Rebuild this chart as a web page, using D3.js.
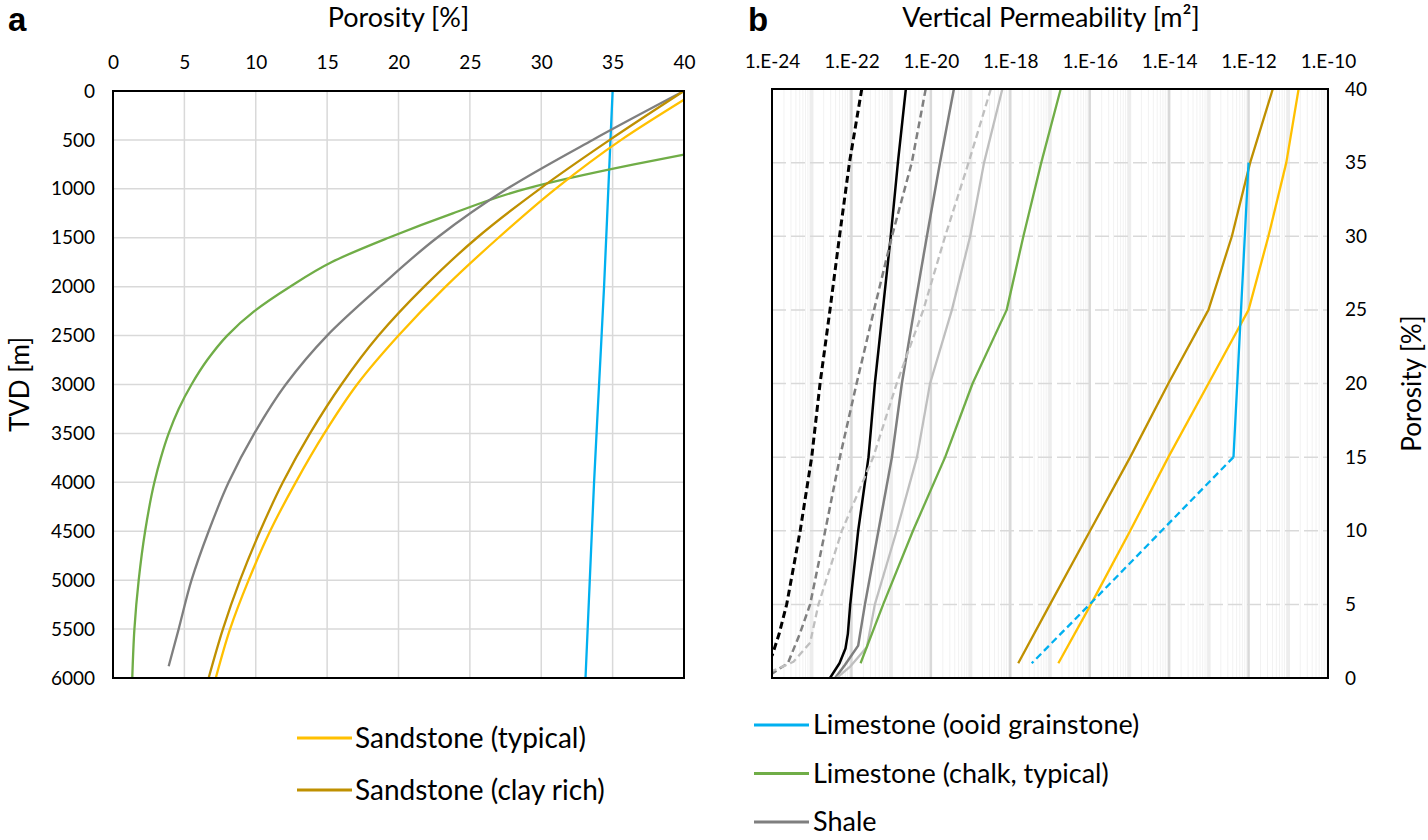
<!DOCTYPE html>
<html><head><meta charset="utf-8">
<script src="https://cdn.jsdelivr.net/npm/d3@7"></script>
<style>
body{margin:0;background:#fff}
svg{display:block}
text{font-family:Lato,"Open Sans","DejaVu Sans",sans-serif;fill:#000}
</style>
</head><body>
<svg id="chart" width="1428" height="840"></svg>
<script>
// ---------------- DATA ----------------
// Panel a: porosity [%] vs TVD [m]
const porosityTicksA = [0,5,10,15,20,25,30,35,40];
const depthTicks = [0,500,1000,1500,2000,2500,3000,3500,4000,4500,5000,5500,6000];

const sandTypicalDepth = [90,500,1000,1500,2000,2500,3000,3500,4000,4500,5000,5500,6000];
const sandTypicalPor   = [40,35.6,31.0,27.0,23.3,20.0,17.1,14.8,12.8,11.0,9.5,8.2,7.2];

const sandClayDepth = [0,500,1000,1500,2000,2500,3000,3500,4000,4500,5000,5500,6000];
const sandClayPor   = [40,34.8,29.9,25.5,21.8,18.6,16.0,13.8,11.9,10.3,8.9,7.7,6.7];

const shaleDepth = [0,500,1000,1500,2000,2500,3000,3500,4000,4500,5000,5500,5880];
const shalePor   = [40,33.6,27.6,22.7,18.7,15.0,12.1,9.9,8.1,6.7,5.5,4.6,3.9];

const chalkDepth = [650,750,1000,1250,1500,1750,2000,2250,2500,2750,3000,3250,3500,3750,4000,4500,5000,5500,6000];
const chalkPor   = [40,36.5,28.9,23.8,19.3,15.3,12.4,9.9,8.0,6.6,5.5,4.6,3.9,3.35,2.9,2.25,1.8,1.5,1.35];

const ooidDepth = [0,1000,2000,3000,4000,5000,6000];
const ooidPor   = [35.0,34.7,34.4,34.05,33.7,33.4,33.1];

// Panel b: vertical permeability (log10 of m²) vs porosity [%]
const permTickExp   = [-24,-22,-20,-18,-16,-14,-12,-10];
const permTickLabels = ["1.E-24","1.E-22","1.E-20","1.E-18","1.E-16","1.E-14","1.E-12","1.E-10"];
const porosityTicksB = [0,5,10,15,20,25,30,35,40];

const blackDashPor = [40,35,30,25,20,15,10,5,3,1.5];
const blackDashLogK = [-21.74,-22.05,-22.30,-22.54,-22.79,-23.00,-23.29,-23.63,-23.82,-24.0];

const blackSolidPor = [40,35,30,25,20,15,10,5,3,2,1,0];
const blackSolidLogK = [-20.63,-20.83,-21.01,-21.21,-21.41,-21.57,-21.83,-22.03,-22.09,-22.15,-22.30,-22.54];

const darkGrayDashPor = [40,35,30,25,20,15,10,5,3,1,0.3];
const darkGrayDashLogK = [-20.13,-20.48,-20.98,-21.43,-21.87,-22.29,-22.66,-23.04,-23.30,-23.60,-24.0];

const darkGraySolidPor = [40,35,30,25,20,15,10,5,2.2,0.9,0];
const darkGraySolidLogK = [-19.42,-19.77,-20.10,-20.42,-20.73,-20.98,-21.32,-21.66,-21.83,-22.16,-22.41];

const lightGrayDashPor = [40,35,30,25,20,15,10,5,2.4,1.1,0.5];
const lightGrayDashLogK = [-18.49,-19.05,-19.64,-20.19,-20.86,-21.45,-22.24,-22.83,-23.04,-23.46,-23.97];

const lightGraySolidPor = [40,35,30,25,20,15,10,5,2.1,0.75,0];
const lightGraySolidLogK = [-18.20,-18.66,-19.01,-19.47,-20.02,-20.35,-20.86,-21.41,-21.61,-22.04,-22.37];

const chalkPermPor = [40,35,30,25,20,15,10,5,1];
const chalkPermLogK = [-16.73,-17.22,-17.67,-18.09,-18.95,-19.64,-20.45,-21.20,-21.77];

const clayPermPor = [40,35,30,25,20,15,10,5,1];
const clayPermLogK = [-11.39,-11.96,-12.42,-13.01,-14.02,-14.98,-15.99,-17.00,-17.80];

const typPermPor = [40,35,30,25,20,15,10,5,1];
const typPermLogK = [-10.74,-11.05,-11.50,-12.00,-13.01,-14.02,-14.98,-15.97,-16.79];

const ooidSolidPor = [35,25,15];
const ooidSolidLogK = [-12.00,-12.19,-12.38];
const ooidDashPor = [15,5,1];
const ooidDashLogK = [-12.38,-16.00,-17.46];

const legendLeft = ["Sandstone (typical)","Sandstone (clay rich)"];
const legendRight = ["Limestone (ooid grainstone)","Limestone (chalk, typical)","Shale"];

// ---------------- STYLES ----------------
const C = {yellow:"#FFC000", brown:"#BF9000", gray:"#7F7F7F", green:"#70AD47", blue:"#00B0F0",
           black:"#000000", lgray:"#BFBFBF", grid:"#d9d9d9"};

const svg = d3.select("#chart");
const zip = (a,b)=>a.map((v,i)=>[v,b[i]]);

// ---------------- PANEL A ----------------
const A = {l:113, r:684, t:91, b:678};
const xA = d3.scaleLinear().domain([0,40]).range([A.l,A.r]);
const yA = d3.scaleLinear().domain([0,6000]).range([A.t,A.b]);

const gA = svg.append("g");
gA.append("g").selectAll("line").data(porosityTicksA.slice(1,-1)).join("line")
  .attr("x1",d=>xA(d)).attr("x2",d=>xA(d)).attr("y1",A.t).attr("y2",A.b)
  .attr("stroke",C.grid).attr("stroke-width",1.5);
gA.append("g").selectAll("line").data(depthTicks.slice(1,-1)).join("line")
  .attr("y1",d=>yA(d)).attr("y2",d=>yA(d)).attr("x1",A.l).attr("x2",A.r)
  .attr("stroke",C.grid).attr("stroke-width",1.5);

const axA = gA.append("g").attr("transform",`translate(0,${A.t})`)
  .call(d3.axisTop(xA).tickValues(porosityTicksA).tickSize(0).tickPadding(22).tickFormat(d3.format("d")));
const ayA = gA.append("g").attr("transform",`translate(${A.l},0)`)
  .call(d3.axisLeft(yA).tickValues(depthTicks).tickSize(0).tickPadding(18).tickFormat(d3.format("d")));
[axA,ayA].forEach(a=>{a.select(".domain").remove(); a.selectAll("text").style("font-size","19px").style("font-family","Lato");});

const lineA = d3.line().x(d=>xA(d[1])).y(d=>yA(d[0])).curve(d3.curveMonotoneY);
const seriesA = [
  {d:zip(ooidDepth,ooidPor), c:C.blue},
  {d:zip(chalkDepth,chalkPor), c:C.green},
  {d:zip(shaleDepth,shalePor), c:C.gray},
  {d:zip(sandClayDepth,sandClayPor), c:C.brown},
  {d:zip(sandTypicalDepth,sandTypicalPor), c:C.yellow}
];
seriesA.forEach(s=>gA.append("path").attr("d",lineA(s.d))
  .attr("fill","none").attr("stroke",s.c).attr("stroke-width",2.3).attr("stroke-linejoin","round"));

gA.append("rect").attr("x",A.l).attr("y",A.t).attr("width",A.r-A.l).attr("height",A.b-A.t)
  .attr("fill","none").attr("stroke","#000").attr("stroke-width",2);

svg.append("text").attr("x",8).attr("y",31).text("a").style("font-family","Liberation Sans, Arial").style("font-weight","bold").style("font-size","33px");
svg.append("text").attr("x",(A.l+A.r)/2).attr("y",27).attr("text-anchor","middle").style("font-size","27px").text("Porosity [%]");
svg.append("text").attr("transform",`translate(29,${(A.t+A.b)/2}) rotate(-90)`).attr("text-anchor","middle").style("font-size","26px").text("TVD [m]");

// ---------------- PANEL B ----------------
const B = {l:772, r:1328, t:89, b:678};
const xB = d3.scaleLog().domain([1e-24,1e-10]).range([B.l,B.r]);
const yB = d3.scaleLinear().domain([0,40]).range([B.b,B.t]);
const gB = svg.append("g");

const minors = [];
for (let e=-24; e<-10; e++) for (let k=2;k<=9;k++) minors.push(k*Math.pow(10,e));
gB.append("g").selectAll("line").data(minors).join("line")
  .attr("x1",d=>xB(d)).attr("x2",d=>xB(d)).attr("y1",B.t).attr("y2",B.b)
  .attr("stroke","#f2f2f2").attr("stroke-width",1);
const decades = d3.range(-23,-10).map(e=>Math.pow(10,e));
gB.append("g").selectAll("line").data(decades).join("line")
  .attr("x1",d=>xB(d)).attr("x2",d=>xB(d)).attr("y1",B.t).attr("y2",B.b)
  .attr("stroke",(d,i)=> (i%2===0 ? "#ededed" : "#d9d9d9"))
  .attr("stroke-width",(d,i)=> (i%2===0 ? 3.5 : 2.5));
gB.append("g").selectAll("line").data(porosityTicksB.slice(1,-1)).join("line")
  .attr("y1",d=>yB(d)).attr("y2",d=>yB(d)).attr("x1",B.l).attr("x2",B.r)
  .attr("stroke","#d9d9d9").attr("stroke-width",1.5).attr("stroke-dasharray","14,5");

const axB = gB.append("g").attr("transform",`translate(0,${B.t})`)
  .call(d3.axisTop(xB).tickValues(permTickExp.map(e=>Math.pow(10,e))).tickSize(0).tickPadding(21)
  .tickFormat((d,i)=>permTickLabels[i]));
const ayB = gB.append("g").attr("transform",`translate(${B.r},0)`)
  .call(d3.axisRight(yB).tickValues(porosityTicksB).tickSize(0).tickPadding(17).tickFormat(d3.format("d")));
[axB,ayB].forEach(a=>{a.select(".domain").remove(); a.selectAll("text").style("font-size","19px").style("font-family","Lato");});

svg.append("clipPath").attr("id","clipB").append("rect")
  .attr("x",B.l).attr("y",B.t).attr("width",B.r-B.l).attr("height",B.b-B.t);
const gS = gB.append("g").attr("clip-path","url(#clipB)");
const lineB = d3.line().x(d=>xB(Math.pow(10,d[1]))).y(d=>yB(d[0]));
const seriesB = [
  {p:blackDashPor, k:blackDashLogK, c:C.black, w:3, dash:"7,4"},
  {p:blackSolidPor, k:blackSolidLogK, c:C.black, w:2.5},
  {p:darkGrayDashPor, k:darkGrayDashLogK, c:C.gray, w:2.5, dash:"7,4"},
  {p:darkGraySolidPor, k:darkGraySolidLogK, c:C.gray, w:2.5},
  {p:lightGrayDashPor, k:lightGrayDashLogK, c:C.lgray, w:2.3, dash:"7,4"},
  {p:lightGraySolidPor, k:lightGraySolidLogK, c:C.lgray, w:2.3},
  {p:chalkPermPor, k:chalkPermLogK, c:C.green, w:2.3},
  {p:clayPermPor, k:clayPermLogK, c:C.brown, w:2.3},
  {p:typPermPor, k:typPermLogK, c:C.yellow, w:2.3},
  {p:ooidSolidPor, k:ooidSolidLogK, c:C.blue, w:2.3},
  {p:ooidDashPor, k:ooidDashLogK, c:C.blue, w:2.3, dash:"7,4"}
];
seriesB.forEach(s=>gS.append("path").attr("d",lineB(zip(s.p,s.k)))
  .attr("fill","none").attr("stroke",s.c).attr("stroke-width",s.w)
  .attr("stroke-dasharray",s.dash||null).attr("stroke-linejoin","round"));

gB.append("rect").attr("x",B.l).attr("y",B.t).attr("width",B.r-B.l).attr("height",B.b-B.t)
  .attr("fill","none").attr("stroke","#000").attr("stroke-width",2);

svg.append("text").attr("x",748).attr("y",31).text("b").style("font-family","Liberation Sans, Arial").style("font-weight","bold").style("font-size","33px");
svg.append("text").attr("x",1051).attr("y",27).attr("text-anchor","middle").style("font-size","27px").text("Vertical Permeability [m²]");
svg.append("text").attr("transform",`translate(1421,${(B.t+B.b)/2}) rotate(-90)`).attr("text-anchor","middle").style("font-size","26px").text("Porosity [%]");

// ---------------- LEGENDS ----------------
const legL = svg.append("g");
const legLColors = [C.yellow, C.brown];
legendLeft.forEach((t,i)=>{
  const y = 738 + i*52;
  legL.append("line").attr("x1",297).attr("x2",352).attr("y1",y).attr("y2",y).attr("stroke",legLColors[i]).attr("stroke-width",3);
  legL.append("text").attr("x",355).attr("y",y).attr("dy","0.35em").style("font-size","28px").text(t);
});
const legR = svg.append("g");
const legRColors = [C.blue, C.green, C.gray];
legendRight.forEach((t,i)=>{
  const y = 725 + i*48.5;
  legR.append("line").attr("x1",754).attr("x2",809).attr("y1",y).attr("y2",y).attr("stroke",legRColors[i]).attr("stroke-width",3);
  legR.append("text").attr("x",813).attr("y",y).attr("dy","0.35em").style("font-size","27px").text(t);
});
</script>
</body></html>
